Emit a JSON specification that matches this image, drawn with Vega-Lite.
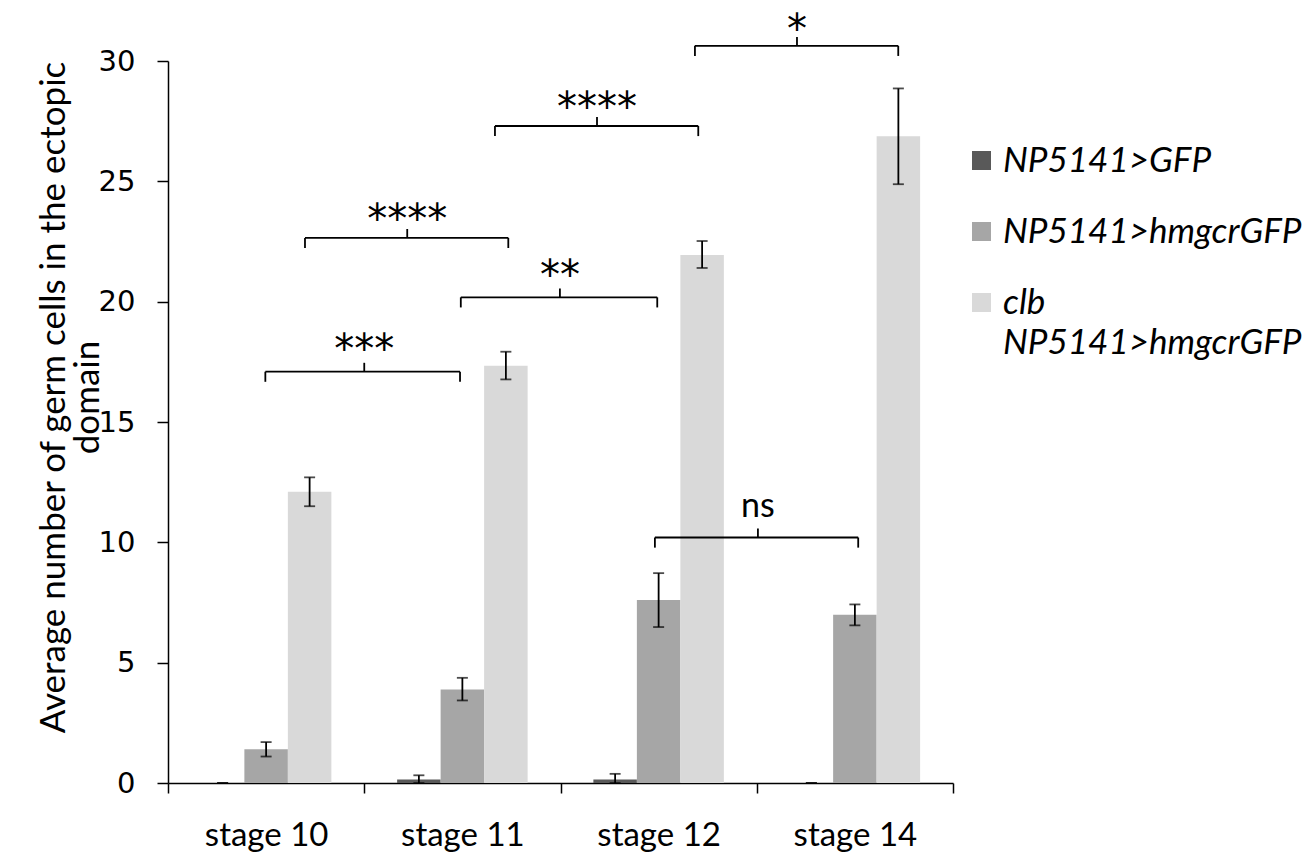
{
  "$schema": "https://vega.github.io/schema/vega-lite/v6.json",
  "width": 785,
  "height": 722,
  "autosize": "none",
  "padding": {"left": 168, "top": 61, "right": 358, "bottom": 69},
  "background": "white",
  "config": {"view": {"stroke": null}},
  "datasets": {
    "bars": [
      {"stage": "stage 10", "group": "NP5141>GFP", "gi": 0, "mean": 0.0, "lo": 0.0, "hi": 0.0},
      {"stage": "stage 10", "group": "NP5141>hmgcrGFP", "gi": 1, "mean": 1.4, "lo": 1.1, "hi": 1.7},
      {"stage": "stage 10", "group": "clb NP5141>hmgcrGFP", "gi": 2, "mean": 12.1, "lo": 11.5, "hi": 12.7},
      {"stage": "stage 11", "group": "NP5141>GFP", "gi": 0, "mean": 0.15, "lo": 0.0, "hi": 0.32},
      {"stage": "stage 11", "group": "NP5141>hmgcrGFP", "gi": 1, "mean": 3.89, "lo": 3.43, "hi": 4.37},
      {"stage": "stage 11", "group": "clb NP5141>hmgcrGFP", "gi": 2, "mean": 17.34, "lo": 16.77, "hi": 17.92},
      {"stage": "stage 12", "group": "NP5141>GFP", "gi": 0, "mean": 0.15, "lo": 0.0, "hi": 0.38},
      {"stage": "stage 12", "group": "NP5141>hmgcrGFP", "gi": 1, "mean": 7.6, "lo": 6.48, "hi": 8.72},
      {"stage": "stage 12", "group": "clb NP5141>hmgcrGFP", "gi": 2, "mean": 21.94, "lo": 21.4, "hi": 22.52},
      {"stage": "stage 14", "group": "NP5141>GFP", "gi": 0, "mean": 0.0, "lo": 0.0, "hi": 0.0},
      {"stage": "stage 14", "group": "NP5141>hmgcrGFP", "gi": 1, "mean": 6.99, "lo": 6.55, "hi": 7.42},
      {"stage": "stage 14", "group": "clb NP5141>hmgcrGFP", "gi": 2, "mean": 26.87, "lo": 24.88, "hi": 28.86}
    ],
    "brackets": [
      {"label": "***", "kind": "star", "x1": 0.496, "x2": 1.488, "xc": 1.0, "y": 17.09, "yd": 16.67, "yu": 17.46, "ty": 18.33},
      {"label": "****", "kind": "star", "x1": 0.698, "x2": 1.734, "xc": 1.219, "y": 22.65, "yd": 22.23, "yu": 23.02, "ty": 23.73},
      {"label": "**", "kind": "star", "x1": 1.492, "x2": 2.493, "xc": 1.997, "y": 20.18, "yd": 19.76, "yu": 20.55, "ty": 21.38},
      {"label": "****", "kind": "star", "x1": 1.666, "x2": 2.702, "xc": 2.186, "y": 27.3, "yd": 26.88, "yu": 27.67, "ty": 28.38},
      {"label": "*", "kind": "star", "x1": 2.685, "x2": 3.721, "xc": 3.205, "y": 30.63, "yd": 30.21, "yu": 31.0, "ty": 31.63},
      {"label": "ns", "kind": "ns", "x1": 2.481, "x2": 3.517, "xc": 3.006, "y": 10.2, "yd": 9.78, "yu": 10.57, "ty": 11.48}
    ]
  },
  "layer": [
    {
      "data": {"name": "bars"},
      "encoding": {
        "x": {
          "field": "stage", "type": "nominal", "title": null,
          "scale": {"paddingInner": 0, "paddingOuter": 0},
          "axis": {
            "labelAngle": 0, "labelFont": "Lato", "labelFontSize": 33, "labelColor": "black",
            "labelPadding": 26, "tickBand": "extent", "tickSize": 10, "tickColor": "black",
            "tickWidth": 1.5, "domainColor": "black", "domainWidth": 1.5, "grid": false
          }
        },
        "xOffset": {"field": "gi", "type": "ordinal", "scale": {"paddingInner": 0, "paddingOuter": 0.756}}
      },
      "layer": [
        {
          "mark": {"type": "bar"},
          "encoding": {
            "y": {
              "field": "mean", "type": "quantitative",
              "scale": {"domain": [0, 30], "nice": false},
              "title": ["Average number of germ cells in the ectopic", "domain"],
              "axis": {
                "values": [0, 5, 10, 15, 20, 25, 30], "grid": false,
                "labelFont": "DejaVu Sans", "labelFontSize": 29, "labelColor": "black",
                "labelPadding": 22, "tickSize": 11, "tickColor": "black", "tickWidth": 1.5,
                "domainColor": "black", "domainWidth": 1.5,
                "titleFont": "Lato", "titleFontSize": 35, "titleFontWeight": "normal", "titleColor": "black",
                "titleLineHeight": 34, "titleAngle": -90, "titleX": -115, "titleY": 336,
                "titleAlign": "center", "titleBaseline": "middle"
              }
            },
            "color": {
              "field": "group", "type": "nominal",
              "scale": {
                "domain": ["NP5141>GFP", "NP5141>hmgcrGFP", "clb NP5141>hmgcrGFP"],
                "range": ["#595959", "#a6a6a6", "#d9d9d9"]
              },
              "legend": {
                "title": null, "orient": "none", "legendX": 796, "legendY": 82,
                "symbolType": "square", "symbolSize": 361, "symbolStrokeWidth": 0,
                "labelFont": "Lato", "labelFontStyle": "italic", "labelFontSize": 35, "labelColor": "black",
                "labelOffset": 4, "rowPadding": 35, "labelLimit": 400,
                "labelExpr": "datum.label == 'clb NP5141>hmgcrGFP' ? ['clb', 'NP5141>hmgcrGFP'] : datum.label",
                "labelBaseline": "middle",
                "encode": {"labels": {"update": {"lineHeight": {"value": 40}}}}
              }
            }
          }
        },
        {
          "mark": {"type": "rule", "color": "black", "strokeWidth": 1.8},
          "encoding": {
            "y": {"field": "lo", "type": "quantitative"},
            "y2": {"field": "hi"}
          }
        },
        {
          "mark": {"type": "tick", "color": "black", "thickness": 1.8, "size": 11, "orient": "horizontal"},
          "encoding": {"y": {"field": "lo", "type": "quantitative"}}
        },
        {
          "mark": {"type": "tick", "color": "black", "thickness": 1.8, "size": 11, "orient": "horizontal"},
          "encoding": {"y": {"field": "hi", "type": "quantitative"}}
        }
      ]
    },
    {
      "data": {"name": "brackets"},
      "layer": [
        {
          "mark": {"type": "rule", "color": "black", "strokeWidth": 1.8},
          "encoding": {
            "x": {"field": "x1", "type": "quantitative", "scale": {"domain": [0, 4], "nice": false, "zero": false}, "axis": null},
            "x2": {"field": "x2"},
            "y": {"field": "y", "type": "quantitative"}
          }
        },
        {
          "mark": {"type": "rule", "color": "black", "strokeWidth": 1.8},
          "encoding": {
            "x": {"field": "x1", "type": "quantitative"},
            "y": {"field": "y", "type": "quantitative"},
            "y2": {"field": "yd"}
          }
        },
        {
          "mark": {"type": "rule", "color": "black", "strokeWidth": 1.8},
          "encoding": {
            "x": {"field": "x2", "type": "quantitative"},
            "y": {"field": "y", "type": "quantitative"},
            "y2": {"field": "yd"}
          }
        },
        {
          "mark": {"type": "rule", "color": "black", "strokeWidth": 1.8},
          "encoding": {
            "x": {"field": "xc", "type": "quantitative"},
            "y": {"field": "y", "type": "quantitative"},
            "y2": {"field": "yu"}
          }
        },
        {
          "transform": [{"filter": "datum.kind == 'star'"}],
          "mark": {"type": "text", "font": "DejaVu Sans", "fontSize": 40, "color": "black", "baseline": "middle", "align": "center", "dy": 9},
          "encoding": {
            "x": {"field": "xc", "type": "quantitative"},
            "y": {"field": "ty", "type": "quantitative"},
            "text": {"field": "label"}
          }
        },
        {
          "transform": [{"filter": "datum.kind == 'ns'"}],
          "mark": {"type": "text", "font": "Lato", "fontSize": 34, "color": "black", "baseline": "middle", "align": "center"},
          "encoding": {
            "x": {"field": "xc", "type": "quantitative"},
            "y": {"field": "ty", "type": "quantitative"},
            "text": {"field": "label"}
          }
        }
      ]
    }
  ],
  "resolve": {"scale": {"x": "independent"}, "axis": {"x": "independent"}}
}
